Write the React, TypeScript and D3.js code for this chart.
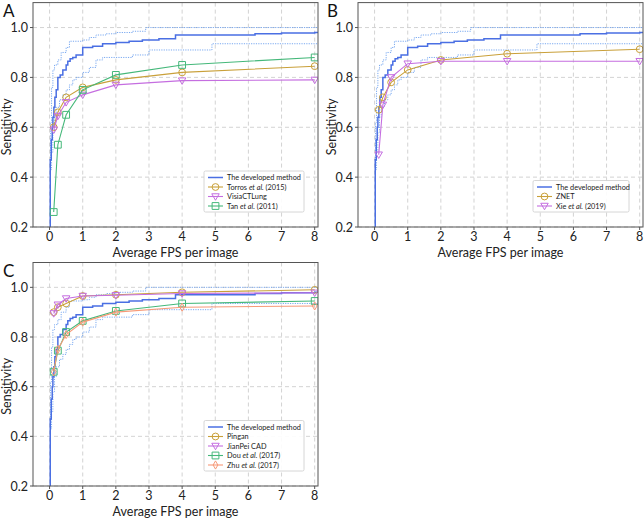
import React from "react";
import * as d3 from "d3";

// FPS values where the comparison methods report sensitivity
const fpsPoints = [0.125, 0.25, 0.5, 1, 2, 4, 8];

// developed method (step curve) and its confidence band
const devFps = [0, 0.02, 0.05, 0.08, 0.1, 0.13, 0.16, 0.2, 0.25, 0.32, 0.4, 0.5, 0.55, 0.62, 0.7, 0.8, 1.0, 1.3, 1.6, 2.0, 2.4, 2.8, 3.3, 3.8, 5, 6.2, 7, 8, 8.1];
const devSens = [0.2, 0.47, 0.55, 0.6, 0.64, 0.68, 0.72, 0.75, 0.8, 0.81, 0.83, 0.85, 0.865, 0.875, 0.88, 0.89, 0.92, 0.925, 0.935, 0.94, 0.945, 0.95, 0.955, 0.97, 0.97, 0.975, 0.978, 0.98, 0.98];
const upFps = [0.01, 0.03, 0.06, 0.1, 0.15, 0.25, 0.35, 0.5, 0.6, 1.0, 1.2, 1.4, 1.7, 2.0, 2.5, 2.9, 8.1];
const upSens = [0.45, 0.62, 0.76, 0.83, 0.85, 0.87, 0.9, 0.92, 0.945, 0.95, 0.96, 0.97, 0.975, 0.98, 0.985, 1.0, 1.0];
const lowFps = [0.03, 0.06, 0.1, 0.15, 0.2, 0.3, 0.4, 0.5, 0.6, 0.7, 0.8, 1.0, 1.2, 1.4, 1.6, 2.0, 2.5, 3.0, 4.9, 8.1];
const lowSens = [0.43, 0.5, 0.58, 0.64, 0.68, 0.71, 0.73, 0.75, 0.77, 0.79, 0.8, 0.82, 0.84, 0.87, 0.88, 0.88, 0.89, 0.91, 0.935, 0.935];

// panel A
const torros = [0.6, 0.66, 0.72, 0.76, 0.79, 0.82, 0.845];
const visia = [0.59, 0.645, 0.7, 0.73, 0.77, 0.787, 0.79];
const tan = [0.26, 0.53, 0.65, 0.75, 0.81, 0.85, 0.88];
// panel B
const znet = [0.67, 0.72, 0.78, 0.83, 0.87, 0.895, 0.913];
const xie = [0.49, 0.69, 0.8, 0.855, 0.865, 0.865, 0.865];
// panel C
const pingan = [0.9, 0.92, 0.935, 0.965, 0.97, 0.98, 0.99];
const jianpei = [0.895, 0.93, 0.955, 0.965, 0.968, 0.975, 0.978];
const dou = [0.66, 0.745, 0.82, 0.865, 0.905, 0.935, 0.945];
const zhu = [0.66, 0.75, 0.81, 0.86, 0.9, 0.92, 0.925];

const xTicks = [0, 1, 2, 3, 4, 5, 6, 7, 8];
const yTicks = [0.2, 0.4, 0.6, 0.8, 1.0];

const BLUE = "#4a6fe3";
const CI = "#7aa9f0";
const GOLD = "#c9a03a";
const VIOLET = "#c56ee0";
const GREEN = "#45b87a";
const SALMON = "#f79a78";

type Series = { name: string; em?: string; tail?: string; color: string; marker: string; values: number[] };

const panels: { letter: string; left: number; top: number; bottom: number; series: Series[] }[] = [
  {
    letter: "A", left: 33, top: 2.6, bottom: 227,
    series: [
      { name: "Torros ", em: "et al.", tail: " (2015)", color: GOLD, marker: "circle", values: torros },
      { name: "VisiaCTLung", color: VIOLET, marker: "tri", values: visia },
      { name: "Tan ", em: "et al.", tail: " (2011)", color: GREEN, marker: "square", values: tan },
    ],
  },
  {
    letter: "B", left: 358, top: 2.6, bottom: 227,
    series: [
      { name: "ZNET", color: GOLD, marker: "circle", values: znet },
      { name: "Xie ", em: "et al.", tail: " (2019)", color: VIOLET, marker: "tri", values: xie },
    ],
  },
  {
    letter: "C", left: 33, top: 262.5, bottom: 486,
    series: [
      { name: "Pingan", color: GOLD, marker: "circle", values: pingan },
      { name: "JianPei CAD", color: VIOLET, marker: "tri", values: jianpei },
      { name: "Dou ", em: "et al.", tail: " (2017)", color: GREEN, marker: "square", values: dou },
      { name: "Zhu ", em: "et al.", tail: " (2017)", color: SALMON, marker: "diamond", values: zhu },
    ],
  },
];

const FONT = "Lato, 'Liberation Sans', sans-serif";

const Marker = ({ kind, x, y, color }: { kind: string; x: number; y: number; color: string }) => {
  const s = 3.4;
  let d = "";
  if (kind === "circle") return <circle cx={x} cy={y} r={s} fill="none" stroke={color} strokeWidth={1} />;
  if (kind === "square") d = `M${x - s},${y - s}H${x + s}V${y + s}H${x - s}Z`;
  if (kind === "tri") d = `M${x - s * 1.1},${y - s * 0.8}H${x + s * 1.1}L${x},${y + s * 1.1}Z`;
  if (kind === "diamond") d = `M${x},${y - s * 1.2}L${x + s * 0.7},${y}L${x},${y + s * 1.2}L${x - s * 0.7},${y}Z`;
  return <path d={d} fill="none" stroke={color} strokeWidth={1} />;
};

const Panel = ({ p, idx }: { p: (typeof panels)[0]; idx: number }) => {
  const width = 285;
  const x = d3.scaleLinear().domain([-0.5, 8.1]).range([p.left, p.left + width]);
  const y = d3.scaleLinear().domain([0.2, 1.1]).range([p.bottom, p.top]);
  const step = d3.line<[number, number]>().x((d) => x(d[0])).y((d) => y(d[1])).curve(d3.curveStepAfter);
  const poly = d3.line<number>().x((d, i) => x(fpsPoints[i])).y((d) => y(d));
  const zip = (a: number[], b: number[]) => a.map((v, i) => [v, b[i]] as [number, number]);
  const clipId = `clip${idx}`;

  const legendRows = [{ name: "The developed method", color: BLUE, marker: "" } as Series, ...p.series];
  const rowH = 9.5;
  const lgW = p.letter === "B" ? 96 : 100;
  const lgX = p.left + width - 14 - lgW;
  const lgH = legendRows.length * rowH + 3;
  const lgY = p.bottom - 15 - lgH;
  const midY = (p.top + p.bottom) / 2 + 12;

  return (
    <g fontFamily={FONT}>
      <defs>
        <clipPath id={clipId}>
          <rect x={p.left} y={p.top} width={width} height={p.bottom - p.top} />
        </clipPath>
      </defs>
      {xTicks.map((t) => (
        <line key={"gx" + t} x1={x(t)} x2={x(t)} y1={p.top} y2={p.bottom} stroke="#c8c8c8" strokeDasharray="4,3" strokeWidth={0.8} />
      ))}
      {yTicks.map((t) => (
        <line key={"gy" + t} x1={p.left} x2={p.left + width} y1={y(t)} y2={y(t)} stroke="#c8c8c8" strokeDasharray="4,3" strokeWidth={0.8} />
      ))}
      <g clipPath={`url(#${clipId})`}>
        <path d={step(zip(upFps, upSens)) ?? ""} fill="none" stroke={CI} strokeWidth={1} strokeDasharray="1.2,1.2" />
        <path d={step(zip(lowFps, lowSens)) ?? ""} fill="none" stroke={CI} strokeWidth={1} strokeDasharray="1.2,1.2" />
        <path d={step(zip(devFps, devSens)) ?? ""} fill="none" stroke={BLUE} strokeWidth={1.5} />
        {p.series.map((s) => (
          <g key={s.name}>
            <path d={poly(s.values) ?? ""} fill="none" stroke={s.color} strokeWidth={1.1} />
            {s.values.map((v, i) => (
              <Marker key={i} kind={s.marker} x={x(fpsPoints[i])} y={y(v)} color={s.color} />
            ))}
          </g>
        ))}
      </g>
      <rect x={p.left} y={p.top} width={width} height={p.bottom - p.top} fill="none" stroke="#555" strokeWidth={1} />
      {xTicks.map((t) => (
        <g key={"tx" + t}>
          <line x1={x(t)} x2={x(t)} y1={p.bottom} y2={p.bottom + 3} stroke="#555" />
          <text x={x(t)} y={p.bottom + 14} textAnchor="middle" fontSize={12.5} fill="#222">{t}</text>
        </g>
      ))}
      {yTicks.map((t) => (
        <g key={"ty" + t}>
          <line x1={p.left - 3} x2={p.left} y1={y(t)} y2={y(t)} stroke="#555" />
          <text x={p.left - 5} y={y(t) + 4.5} textAnchor="end" fontSize={12.5} fill="#222">{t.toFixed(1)}</text>
        </g>
      ))}
      <text x={p.left + width / 2} y={p.bottom + 30} textAnchor="middle" fontSize={12.5} fill="#222">Average FPS per image</text>
      <text transform={`translate(${p.left - 22},${midY}) rotate(-90)`} textAnchor="middle" fontSize={12.5} fill="#222">Sensitivity</text>
      <text x={p.letter === "B" ? p.left - 31 : p.left - 30} y={p.top + 14} fontSize={17} fill="#111">{p.letter}</text>
      <g>
        <rect x={lgX} y={lgY} width={lgW} height={lgH} fill="#fff" fillOpacity={0.9} stroke="#ccc" strokeWidth={0.8} rx={1.5} />
        {legendRows.map((r, i) => {
          const cy = lgY + 6.5 + i * rowH;
          return (
            <g key={"lg" + i}>
              <line x1={lgX + 4} x2={lgX + 19} y1={cy} y2={cy} stroke={r.color} strokeWidth={i === 0 ? 1.5 : 1.1} />
              {r.marker && <Marker kind={r.marker} x={lgX + 11.5} y={cy} color={r.color} />}
              <text x={lgX + 23} y={cy + 2.6} fontSize={7.3} fill="#222">
                {r.name}
                {r.em && <tspan fontStyle="italic">{r.em}</tspan>}
                {r.tail}
              </text>
            </g>
          );
        })}
      </g>
    </g>
  );
};

export default function App() {
  return (
    <div style={{ position: "absolute", left: 0, top: 0, width: 644, height: 518, background: "#fff" }}>
      <svg width={644} height={518}>
        {panels.map((p, i) => (
          <Panel key={p.letter} p={p} idx={i} />
        ))}
      </svg>
    </div>
  );
}
